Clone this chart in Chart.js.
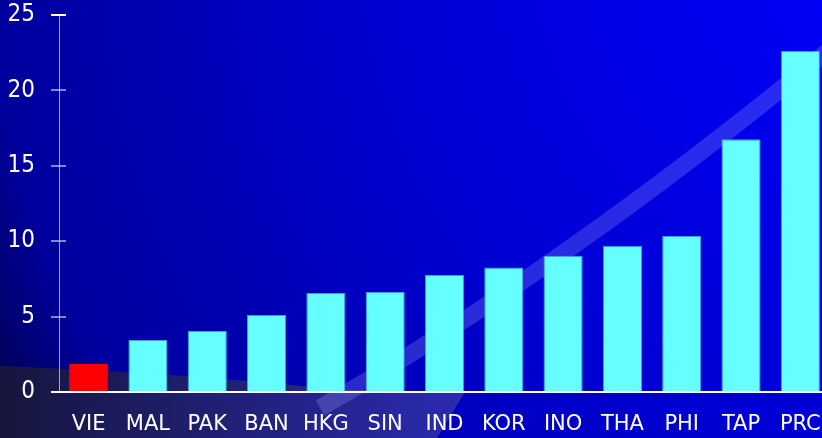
<!DOCTYPE html>
<html>
<head>
<meta charset="utf-8">
<script src="https://cdn.jsdelivr.net/npm/chart.js@4"></script>
<style>
  html, body { margin: 0; padding: 0; overflow: hidden; background: #000080; }
  #wrap { width: 830px; height: 438px; position: relative; }
</style>
</head>
<body>
<div id="wrap"><canvas id="barChart"></canvas></div>
<script>
// data
const countries = ["VIE", "MAL", "PAK", "BAN", "HKG", "SIN", "IND", "KOR", "INO", "THA", "PHI", "TAP", "PRC"];
const values = [1.86, 3.45, 4.05, 5.1, 6.56, 6.63, 7.76, 8.26, 9.04, 9.7, 10.34, 16.76, 22.63];
const yTicks = [0, 5, 10, 15, 20, 25];

const barColors = countries.map(c => c === "VIE" ? "#ff0000" : "#66ffff");
const barBorders = countries.map(c => c === "VIE" ? "#ff0000" : "#3c9ee8");

//background: blue gradient, lighter bottom-left patch and the swoosh
const backdrop = {
  id: 'backdrop',
  beforeDraw(chart) {
    const ctx = chart.ctx;
    const w = chart.width, h = chart.height;
    ctx.save();
    let g = ctx.createRadialGradient(900, -60, 0, 900, -60, 1000);
    g.addColorStop(0.1, "#0000f6");
    g.addColorStop(0.5, "#0000d4");
    g.addColorStop(0.91, "#00009c");
    g.addColorStop(1, "#00005a");
    ctx.fillStyle = g;
    ctx.fillRect(0, 0, w, h);

    let g2 = ctx.createLinearGradient(0, 0, 460, 0);
    g2.addColorStop(0, "#16163e");
    g2.addColorStop(1, "#2a2ab0");
    ctx.fillStyle = g2;
    ctx.beginPath();
    ctx.moveTo(0, 366);
    ctx.quadraticCurveTo(200, 374, 340, 390);
    ctx.lineTo(465, 392);
    ctx.lineTo(437, 438);
    ctx.lineTo(0, 438);
    ctx.closePath();
    ctx.fill();

    ctx.strokeStyle = "rgba(150,150,255,0.28)";
    ctx.lineWidth = 17;
    ctx.beginPath();
    ctx.moveTo(320, 408);
    ctx.quadraticCurveTo(565, 268, 835, 45);
    ctx.stroke();
    ctx.restore();
  },
  afterDraw(chart) {
    //inner half of the y ticks and the x axis line
    const ctx = chart.ctx;
    const y = chart.scales.y, x = chart.scales.x;
    ctx.save();
    ctx.lineWidth = 2;
    yTicks.forEach(v => {
      const py = Math.round(y.getPixelForValue(v));
      ctx.strokeStyle = v === 25 ? "#ffffff" : "rgba(190,190,240,0.7)";
      ctx.beginPath();
      ctx.moveTo(y.right - 8, py);
      ctx.lineTo(y.right + 7, py);
      ctx.stroke();
    });
    ctx.strokeStyle = "#ffffff";
    const py0 = Math.round(y.getPixelForValue(0));
    ctx.beginPath();
    ctx.moveTo(y.right - 8, py0);
    ctx.lineTo(x.right, py0);
    ctx.stroke();
    ctx.restore();
  }
};

let container = document.querySelector("#barChart").getContext('2d');
let barChart = new Chart(container, {
  type: 'bar',
  data: {
    labels: countries,
    datasets: [{
      data: values,
      backgroundColor: barColors,
      borderColor: barBorders,
      borderWidth: 1,
      barPercentage: 0.66,
      categoryPercentage: 1.0
    }]
  },
  options: {
    responsive: true,
    maintainAspectRatio: false,
    animation: false,
    layout: {
      padding: { top: 15, left: 0, right: 0, bottom: 0 }
    },
    plugins: {
      legend: { display: false },
      tooltip: { enabled: false }
    },
    scales: {
      x: {
        grid: { display: false },
        border: { display: false },
        ticks: {
          color: "#ffffff",
          padding: 12,
          maxRotation: 0,
          autoSkip: false,
          font: { family: "'DejaVu Sans', sans-serif", size: 21 }
        },
        afterFit(scale) { scale.height = 46; scale.paddingLeft = 0; scale.paddingRight = 0; }
      },
      y: {
        min: 0,
        max: 25,
        afterBuildTicks(scale) { scale.ticks = yTicks.map(v => ({ value: v })); },
        grid: { drawOnChartArea: false, drawTicks: false },
        border: { display: true, color: "rgba(200,200,255,0.8)", width: 1 },
        ticks: {
          color: "#ffffff",
          padding: 24,
          font: { family: "'DejaVu Sans Condensed', 'DejaVu Sans', sans-serif", size: 24 }
        },
        afterFit(scale) { scale.width = 59; scale.paddingTop = 0; scale.paddingBottom = 0; }
      }
    }
  },
  plugins: [backdrop]
});
</script>
</body>
</html>
